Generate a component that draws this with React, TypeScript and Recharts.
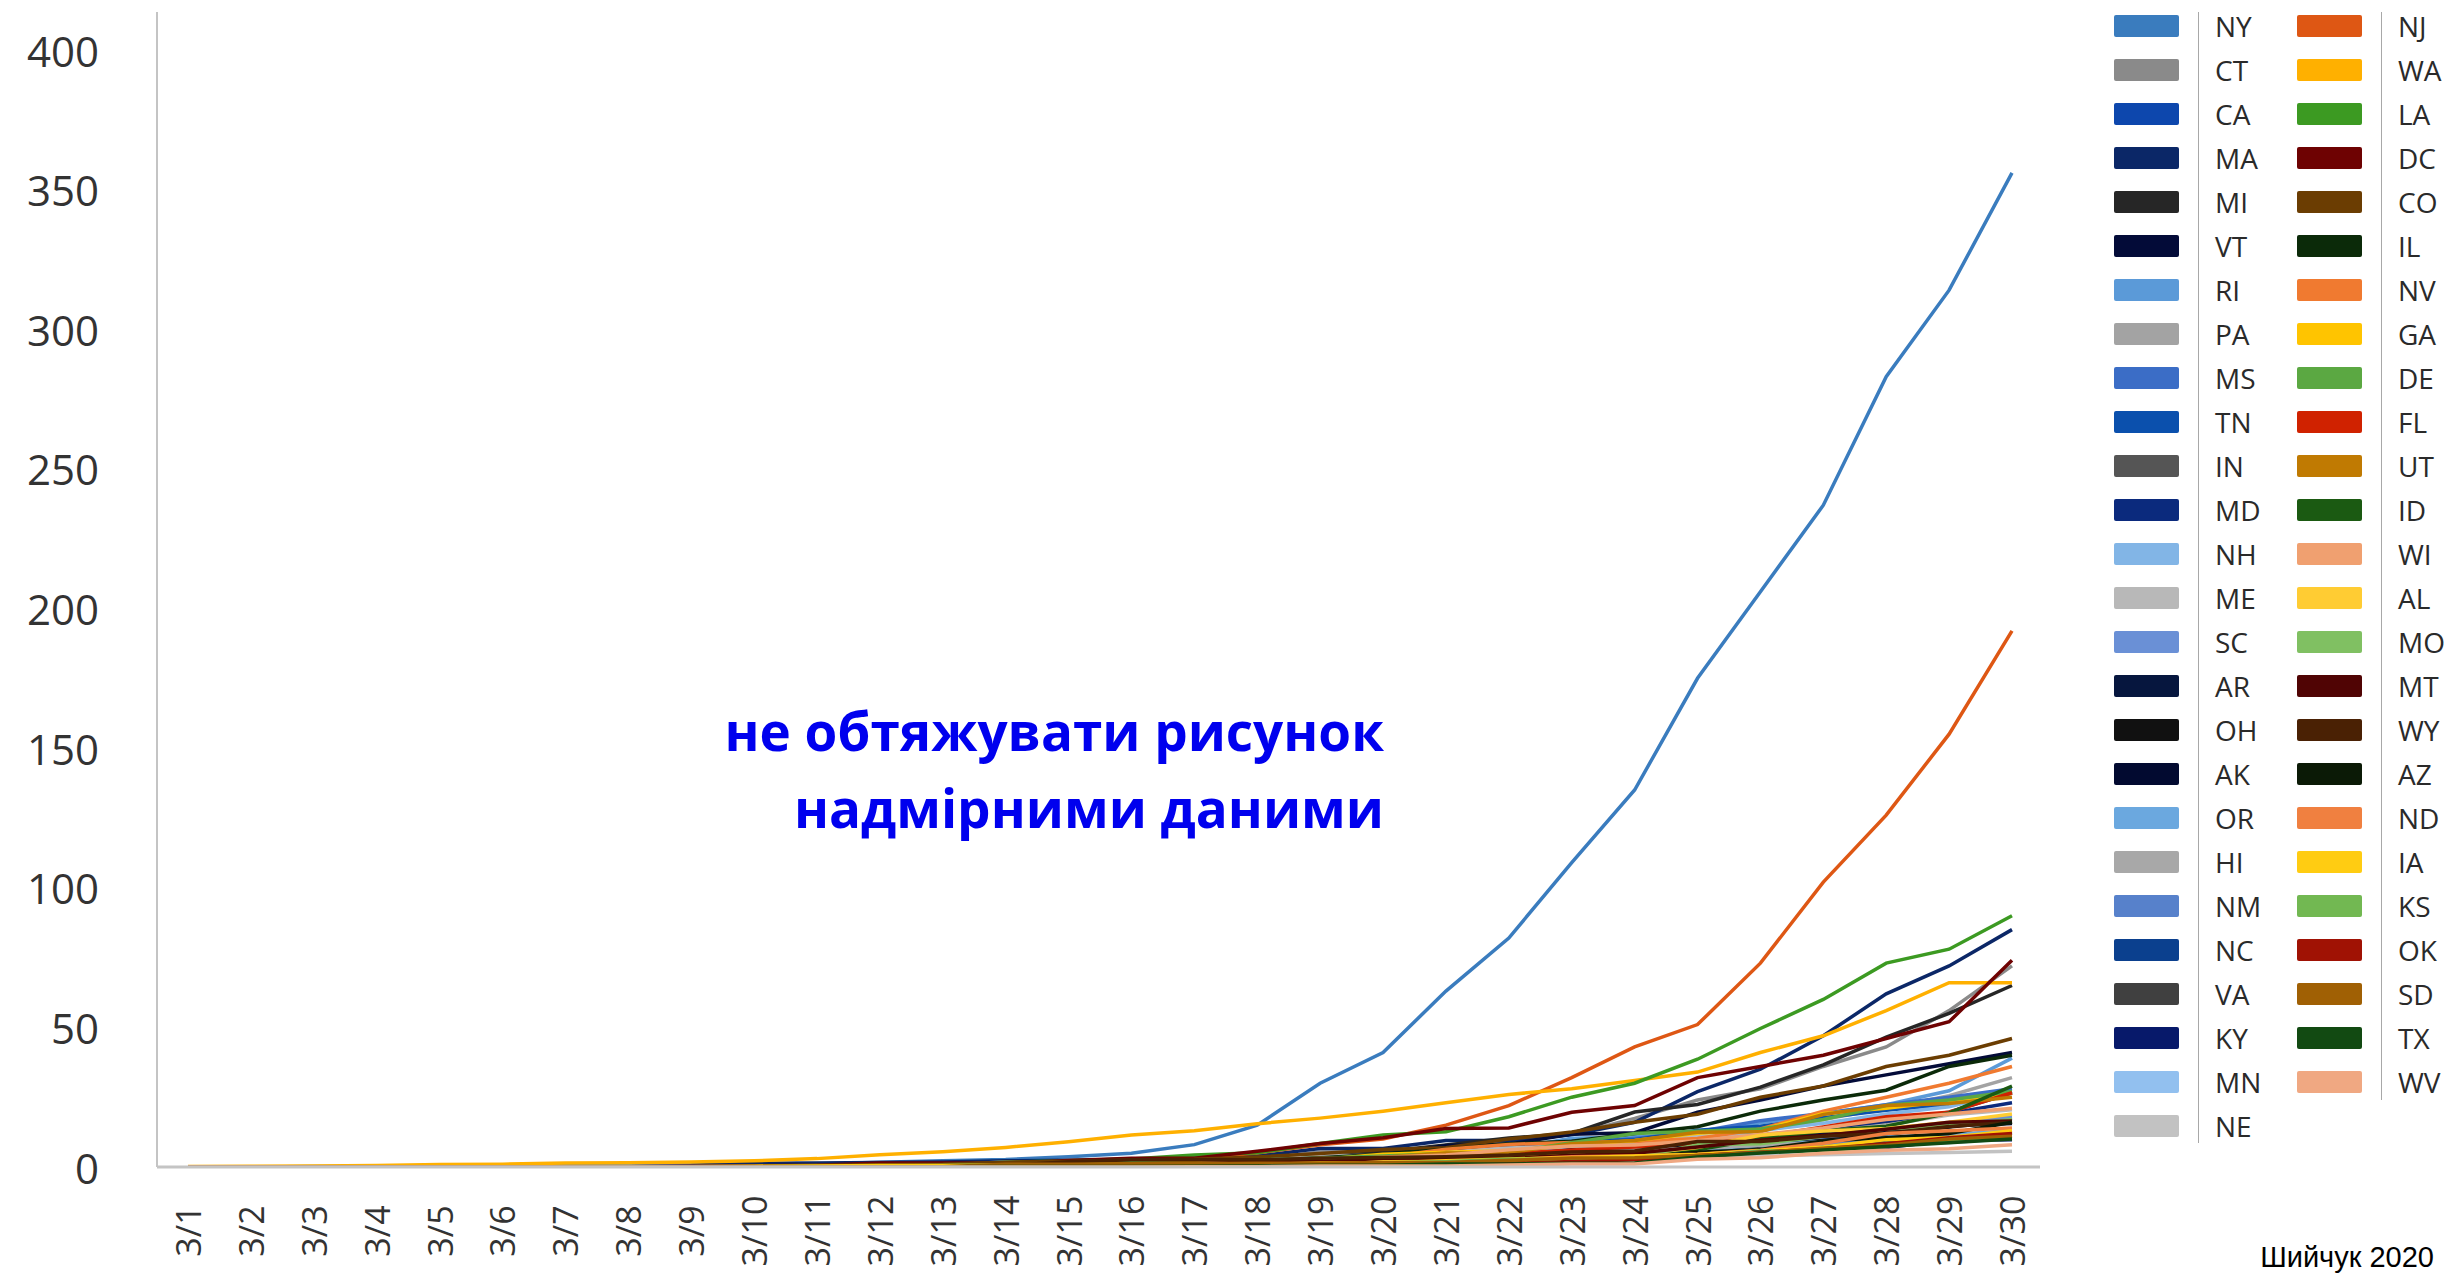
import { Line, LineChart, XAxis, YAxis } from "recharts"

const days = [
  "3/1", "3/2", "3/3", "3/4", "3/5", "3/6", "3/7", "3/8", "3/9", "3/10",
  "3/11", "3/12", "3/13", "3/14", "3/15", "3/16", "3/17", "3/18", "3/19", "3/20",
  "3/21", "3/22", "3/23", "3/24", "3/25", "3/26", "3/27", "3/28", "3/29", "3/30"
]

const yTicks = [0, 50, 100, 150, 200, 250, 300, 350, 400]

// cases per 100k
const NY = [0, 0, 0, 0, 0, 0.1, 0.4, 0.5, 0.7, 0.9, 1.1, 1.7, 2.2, 2.7, 3.7, 4.9, 8, 15, 30, 41, 63, 82, 109, 135, 175, 206, 237, 283, 314, 356]
const CT = [0, 0, 0, 0, 0, 0, 0, 0.1, 0.1, 0.1, 0.1, 0.2, 0.3, 0.7, 0.7, 1.4, 1.9, 2.7, 5.4, 5.4, 5.4, 9, 11.7, 17.4, 24, 28, 36, 43, 56, 72]
const CA = [0.1, 0.1, 0.1, 0.1, 0.1, 0.2, 0.2, 0.3, 0.3, 0.4, 0.5, 0.5, 0.7, 0.9, 1.1, 1.4, 1.7, 2.1, 2.6, 3.3, 3.4, 4, 5.3, 5.4, 6.3, 8.2, 10.4, 12.8, 14.4, 17.5]
const MA = [0, 0, 0, 0, 0, 0.1, 0.2, 0.4, 0.6, 1.3, 1.4, 1.6, 1.8, 2.2, 2.4, 2.8, 3.2, 3.9, 6.6, 6.6, 9.5, 9.5, 11.5, 16, 27, 35, 47, 62, 72, 85]
const MI = [0, 0, 0, 0, 0, 0, 0, 0, 0, 0, 0, 0.1, 0.1, 0.3, 0.5, 0.5, 0.6, 0.8, 3.3, 5.5, 7.9, 10.4, 12, 19.7, 22.4, 28.6, 36.6, 46.5, 55, 65]
const VT = [0, 0, 0, 0, 0, 0, 0, 0.2, 0.2, 0.3, 0.3, 0.5, 0.9, 0.8, 1.3, 1.9, 2.6, 2.9, 3.5, 4.2, 7.7, 8.2, 11.7, 12.3, 19.6, 24, 29, 33, 37, 41]
const RI = [0, 0, 0.2, 0.2, 0.2, 0.2, 0.3, 0.3, 0.3, 0.3, 0.5, 0.5, 0.5, 1.9, 1.9, 2.1, 2.2, 2.7, 3.1, 4, 6.5, 6.5, 10.3, 10.8, 11.7, 15.8, 19.2, 22.3, 27.3, 39]
const PA = [0, 0, 0, 0, 0, 0.1, 0.1, 0.1, 0.1, 0.1, 0.1, 0.2, 0.3, 0.4, 0.6, 0.6, 0.8, 1.1, 1.4, 2.1, 2.9, 3.8, 5, 6.9, 8.4, 13.3, 17, 21, 25.5, 32]
const MS = [0, 0, 0, 0, 0, 0, 0, 0, 0, 0, 0, 0, 0.1, 0.2, 0.5, 0.7, 0.7, 1.1, 1.7, 2.7, 3.9, 6.4, 8.3, 10.2, 12.6, 16.6, 19.2, 22.3, 25, 28]
const TN = [0, 0, 0, 0, 0, 0.1, 0.1, 0.1, 0.1, 0.1, 0.1, 0.3, 0.4, 0.4, 0.6, 0.8, 1.1, 1.4, 2, 3.3, 5.1, 7.5, 9.1, 9.8, 13.2, 14.6, 17.6, 20.3, 22.5, 27]
const IN = [0, 0, 0, 0, 0, 0, 0.1, 0.1, 0.1, 0.1, 0.1, 0.2, 0.2, 0.2, 0.3, 0.3, 0.5, 0.6, 0.8, 1.2, 1.9, 3.8, 3.9, 5.9, 7.2, 9.2, 12.4, 15.5, 19.7, 26.5]
const MD = [0, 0, 0, 0, 0, 0.1, 0.1, 0.1, 0.1, 0.1, 0.2, 0.2, 0.2, 0.4, 0.6, 0.6, 0.9, 1.4, 1.8, 2.5, 3.2, 4.4, 4.9, 6.1, 7.6, 9.9, 12.6, 16.4, 19.2, 23]
const NH = [0, 0, 0.1, 0.1, 0.1, 0.1, 0.1, 0.3, 0.3, 0.3, 0.4, 0.4, 0.4, 0.9, 1, 1.6, 1.9, 2.9, 3.3, 4, 4.8, 5.8, 7.1, 7.1, 10.2, 13, 15.7, 19, 21.6, 27]
const ME = [0, 0, 0, 0, 0, 0, 0, 0, 0, 0, 0, 0, 0.1, 0.2, 0.9, 1.2, 2, 3.2, 3.9, 4.2, 5.6, 6.8, 7.6, 8.2, 11.1, 11.1, 12.6, 15, 18.6, 20.5]
const SC = [0, 0, 0, 0, 0, 0, 0.1, 0.1, 0.1, 0.1, 0.2, 0.2, 0.2, 0.4, 0.6, 0.7, 0.9, 0.9, 1.6, 2.4, 3.8, 3.8, 5.9, 6.1, 8, 8.8, 10.7, 12.7, 15.7, 18]
const AR = [0, 0, 0, 0, 0, 0, 0, 0, 0, 0, 0.1, 0.2, 0.2, 0.6, 0.7, 0.8, 1.1, 1.5, 2.1, 2.6, 3.3, 3.9, 6.2, 6.8, 9.1, 11, 12.3, 13.5, 14.9, 15.7]
const OH = [0, 0, 0, 0, 0, 0, 0, 0, 0, 0, 0, 0, 0, 0.1, 0.3, 0.4, 0.6, 0.8, 1, 1.5, 2.1, 3, 3.8, 4.9, 5.8, 7.5, 9.5, 11.6, 14.3, 16.5]
const AK = [0, 0, 0, 0, 0, 0, 0, 0, 0, 0, 0, 0, 0.1, 0.1, 0.1, 0.4, 0.8, 0.8, 1.1, 1.6, 2.1, 3.7, 4.4, 5.3, 8, 9.4, 11.2, 13.1, 15, 15.6]
const OR = [0, 0, 0, 0, 0, 0, 0.2, 0.2, 0.3, 0.4, 0.4, 0.5, 0.7, 0.8, 0.9, 1.1, 1.6, 2, 2.1, 2.7, 3.1, 3.6, 4.6, 4.8, 6.2, 7.8, 9.1, 10.7, 11.6, 13]
const HI = [0, 0, 0, 0, 0, 0, 0.1, 0.1, 0.1, 0.1, 0.1, 0.1, 0.1, 0.1, 0.5, 0.7, 0.7, 1, 1.3, 2.6, 3.7, 3.9, 5.3, 6.3, 6.6, 7.8, 8.7, 9.1, 10.9, 12.3]
const NM = [0, 0, 0, 0, 0, 0, 0, 0, 0, 0, 0.3, 0.3, 0.4, 0.6, 0.8, 1.1, 1.1, 1.3, 1.7, 2.1, 2.7, 3.1, 3.9, 4.7, 5.3, 6.3, 8.6, 9.1, 9.5, 11.3]
const NC = [0, 0, 0, 0, 0, 0, 0, 0, 0, 0.1, 0.1, 0.1, 0.2, 0.3, 0.3, 0.3, 0.6, 0.7, 1, 1.4, 2.1, 2.4, 2.8, 4, 4.8, 6, 7.2, 9, 10.4, 12.5]
const VA = [0, 0, 0, 0, 0, 0, 0, 0, 0, 0, 0.1, 0.1, 0.2, 0.4, 0.5, 0.6, 0.8, 0.9, 1.1, 1.3, 1.8, 2.6, 3, 3.4, 4.3, 5.8, 7.2, 8.5, 10.1, 12]
const KY = [0, 0, 0, 0, 0, 0, 0, 0, 0, 0.1, 0.2, 0.2, 0.3, 0.5, 0.5, 0.5, 0.6, 0.6, 1, 1.2, 1.9, 2.3, 2.2, 3.7, 4.3, 5.4, 6.6, 7, 9.5, 9.8]
const MN = [0, 0, 0, 0, 0, 0, 0, 0, 0, 0, 0, 0, 0.3, 0.4, 0.6, 0.9, 1.1, 1.4, 1.6, 2.1, 2.4, 2.8, 4.2, 4.7, 5.2, 6.1, 7.1, 7.8, 8.8, 10.2]
const NE = [0, 0, 0, 0, 0, 0, 0.1, 0.1, 0.1, 0.2, 0.3, 0.5, 0.7, 0.8, 0.9, 0.9, 1, 1.1, 1.1, 1.7, 1.9, 2, 2.6, 3.1, 3.6, 4.1, 4.4, 4.8, 5.2, 5.6]

const NJ = [0, 0, 0, 0, 0, 0, 0, 0, 0, 0, 0.3, 0.3, 0.8, 0.8, 1, 2, 3, 5, 8, 10, 15, 22, 32, 43, 51, 73, 102, 126, 155, 192]
const WA = [0.2, 0.3, 0.4, 0.5, 0.9, 1, 1.4, 1.5, 1.8, 2.2, 3, 4.4, 5.5, 7, 9, 11.5, 13, 15.5, 17.5, 20, 23, 26, 28, 31, 34, 41, 47, 56, 66, 66]
const LA = [0, 0, 0, 0, 0, 0, 0, 0, 0, 0.1, 0.3, 0.8, 0.8, 1.7, 2.2, 2.9, 4.3, 5.1, 8.4, 11.5, 12.6, 18, 25, 30, 38.6, 49.6, 60, 73, 78, 90]
const DC = [0, 0, 0, 0, 0, 0, 0.1, 0.1, 0.3, 0.4, 0.6, 1.4, 1.4, 1.4, 2.3, 3.1, 3.1, 5.6, 8.4, 10.5, 13.8, 14, 19.6, 22, 32, 36, 40, 46, 52, 74]
const CO = [0, 0, 0, 0, 0.1, 0.1, 0.1, 0.1, 0.2, 0.3, 0.6, 0.8, 1, 1.7, 2, 2.5, 2.8, 3.6, 4.8, 6.3, 6.9, 10, 12.5, 16, 18.9, 25, 29, 36, 40, 46]
const IL = [0, 0, 0, 0, 0, 0, 0, 0, 0.1, 0.1, 0.2, 0.2, 0.4, 0.5, 0.7, 0.8, 1.2, 2.2, 3.3, 4.6, 6.4, 8.3, 9.2, 12, 14.4, 20, 24, 27.5, 36, 40]
const NV = [0, 0, 0, 0, 0, 0, 0, 0, 0, 0, 0.1, 0.2, 0.3, 0.6, 0.8, 1, 1.8, 1.8, 3.1, 3.5, 6.4, 8.1, 8.8, 9.1, 10.2, 13.6, 20, 25, 30, 36]
const GA = [0, 0, 0, 0, 0, 0, 0, 0, 0, 0.1, 0.2, 0.3, 0.4, 0.6, 0.9, 1.2, 1.4, 1.9, 2.7, 4.6, 5.3, 5.8, 7.7, 9.5, 12.1, 13.3, 19.2, 21, 23.6, 26.5]
const DE = [0, 0, 0, 0, 0, 0, 0, 0, 0, 0, 0.1, 0.4, 0.5, 0.7, 1, 1.5, 2.2, 2.6, 3.1, 3.9, 4.8, 5.3, 8.7, 12, 12.8, 13.6, 17, 22, 24, 27]
const FL = [0, 0, 0, 0, 0, 0, 0, 0, 0, 0.1, 0.1, 0.2, 0.3, 0.4, 0.5, 0.7, 1, 1.5, 2, 2.6, 3.5, 4.8, 6.1, 7.2, 8.6, 10.8, 14.3, 18, 19.6, 26.6]
const UT = [0, 0, 0, 0, 0, 0, 0, 0, 0, 0, 0.1, 0.2, 0.3, 0.3, 0.9, 1.2, 1.6, 1.6, 2.5, 3.5, 5, 5.1, 8.3, 9.5, 12.4, 12.6, 18.8, 22, 22.7, 25]
const ID = [0, 0, 0, 0, 0, 0, 0, 0, 0, 0, 0, 0, 0, 0.1, 0.3, 0.4, 0.5, 0.5, 0.7, 1.7, 1.7, 2.3, 2.8, 4.8, 6.2, 10, 13, 14.6, 19.3, 29]
const WI = [0, 0, 0, 0, 0, 0, 0, 0, 0, 0, 0.1, 0.1, 0.3, 0.5, 0.6, 0.8, 1.2, 1.8, 2.7, 3.5, 4.3, 6.2, 7.5, 7.9, 9.4, 11.6, 14, 17, 19, 21]
const AL = [0, 0, 0, 0, 0, 0, 0, 0, 0, 0, 0, 0, 0.1, 0.1, 0.2, 0.7, 0.8, 1, 1.6, 2.6, 2.6, 3.6, 4.3, 4.5, 7, 11.4, 12.9, 13.8, 16, 19]
const MO = [0, 0, 0, 0, 0, 0, 0, 0, 0, 0, 0.1, 0.1, 0.1, 0.1, 0.1, 0.2, 0.2, 0.5, 0.7, 1.2, 1.5, 1.5, 3.4, 3.4, 8, 8.3, 11, 13.6, 14.8, 17]
const MT = [0, 0, 0, 0, 0, 0, 0, 0, 0, 0, 0, 0, 0.1, 0.5, 0.7, 0.8, 1.1, 1.9, 1.9, 3.1, 3.2, 3.2, 4.2, 4.9, 7.2, 9.6, 11.3, 13.5, 16, 16.5]
const WY = [0, 0, 0, 0, 0, 0, 0, 0, 0, 0, 0, 0.2, 0.2, 0.5, 1.9, 2.6, 2.6, 2.6, 3.1, 3.4, 3.7, 4.3, 5.4, 5.7, 9.1, 9.1, 11, 12, 14.5, 16]
const AZ = [0, 0, 0, 0, 0, 0, 0, 0, 0, 0, 0.1, 0.1, 0.1, 0.1, 0.2, 0.2, 0.3, 0.4, 0.6, 0.9, 1.4, 2.9, 3.2, 3.2, 5.3, 6.3, 9.3, 10.5, 12, 16]
const ND = [0, 0, 0, 0, 0, 0, 0, 0, 0, 0, 0, 0, 0.1, 0.1, 0.1, 0.1, 0.3, 0.7, 1, 1.2, 1.8, 2.6, 3.7, 3.9, 4.6, 6, 8.5, 12, 13, 14]
const IA = [0, 0, 0, 0, 0, 0, 0, 0.1, 0.1, 0.3, 0.4, 0.5, 0.5, 0.6, 0.6, 0.7, 0.7, 0.9, 1.4, 1.4, 2.2, 2.9, 3.3, 3.9, 4.5, 5.8, 7.2, 9.8, 10.6, 13]
const KS = [0, 0, 0, 0, 0, 0, 0, 0, 0, 0, 0, 0.1, 0.1, 0.1, 0.1, 0.2, 0.3, 0.3, 0.6, 1.4, 1.9, 2.8, 2.8, 3.1, 3.8, 5.7, 5.9, 7.3, 9.5, 11]
const OK = [0, 0, 0, 0, 0, 0, 0, 0, 0, 0, 0, 0, 0, 0, 0.1, 0.2, 0.3, 0.3, 0.5, 1, 1.2, 1.3, 2, 2.6, 4.1, 5.3, 6.5, 8.3, 10.5, 12]
const SD = [0, 0, 0, 0, 0, 0, 0, 0, 0, 0, 0, 0.1, 0.1, 1, 1, 1.2, 1.2, 1.3, 1.3, 1.6, 1.6, 2.4, 3.2, 3.3, 4.1, 5.2, 6.7, 7.8, 10, 11]
const TX = [0, 0, 0, 0, 0, 0, 0, 0, 0, 0, 0, 0.1, 0.1, 0.2, 0.2, 0.2, 0.3, 0.4, 0.6, 0.6, 1.1, 1.1, 1.3, 1.4, 3.6, 5, 6.1, 7.3, 8.7, 10]
const WV = [0, 0, 0, 0, 0, 0, 0, 0, 0, 0, 0, 0, 0, 0, 0, 0, 0.1, 0.1, 0.4, 0.4, 0.4, 0.7, 1.1, 1.1, 2.8, 3.3, 4.9, 6, 6.5, 8]

const leftStates = ["NY", "CT", "CA", "MA", "MI", "VT", "RI", "PA", "MS", "TN", "IN", "MD", "NH", "ME", "SC", "AR", "OH", "AK", "OR", "HI", "NM", "NC", "VA", "KY", "MN", "NE"]
const rightStates = ["NJ", "WA", "LA", "DC", "CO", "IL", "NV", "GA", "DE", "FL", "UT", "ID", "WI", "AL", "MO", "MT", "WY", "AZ", "ND", "IA", "KS", "OK", "SD", "TX", "WV"]

const values: Record<string, number[]> = {
  NY, CT, CA, MA, MI, VT, RI, PA, MS, TN, IN, MD, NH, ME, SC, AR, OH, AK, OR, HI, NM, NC, VA, KY, MN, NE,
  NJ, WA, LA, DC, CO, IL, NV, GA, DE, FL, UT, ID, WI, AL, MO, MT, WY, AZ, ND, IA, KS, OK, SD, TX, WV
}

const colors: Record<string, string> = {
  NY: "#3a7cbe", CT: "#8a8a8a", CA: "#0d47ad", MA: "#0b2767", MI: "#262626", VT: "#030b38",
  RI: "#5b9ad8", PA: "#a3a3a3", MS: "#3b6dc6", TN: "#0b50ad", IN: "#555555", MD: "#0b2a7d",
  NH: "#82b5e6", ME: "#b8b8b8", SC: "#6a90d6", AR: "#06163e", OH: "#111111", AK: "#020a30",
  OR: "#6ba8df", HI: "#a8a8a8", NM: "#5781cb", NC: "#0b408e", VA: "#404040", KY: "#07196a",
  MN: "#92c0ef", NE: "#c2c2c2",
  NJ: "#de5714", WA: "#ffb000", LA: "#3c9a22", DC: "#6e0202", CO: "#6b3d02", IL: "#0b2a09",
  NV: "#f07a30", GA: "#ffc400", DE: "#5ba842", FL: "#d02200", UT: "#c07a02", ID: "#1b5a12",
  WI: "#f0a070", AL: "#ffcc33", MO: "#80c062", MT: "#500404", WY: "#4a2104", AZ: "#0b1a06",
  ND: "#f08040", IA: "#ffcc12", KS: "#72b852", OK: "#a01204", SD: "#a06004", TX: "#124a12",
  WV: "#f0a882"
}

const states = [...leftStates, ...rightStates]

const data = days.map((day, i) => {
  const row: Record<string, string | number> = { day }
  states.forEach((s) => {
    row[s] = values[s][i]
  })
  return row
})

const XTick = ({ x, y, payload }: any) => (
  <text
    x={x}
    y={y}
    transform={`rotate(-90 ${x} ${y})`}
    textAnchor="middle"
    dominantBaseline="central"
    fontFamily="'Open Sans', sans-serif"
    fontSize={34}
    fill="#333"
  >
    {payload.value}
  </text>
)

const YTick = ({ x, y, payload }: any) => (
  <text
    x={x}
    y={y}
    textAnchor="end"
    dominantBaseline="central"
    fontFamily="'Open Sans', sans-serif"
    fontSize={42}
    fill="#333"
  >
    {payload.value}
  </text>
)

const LegendColumn = ({ names, left, sepHeight }: { names: string[]; left: number; sepHeight: number }) => (
  <>
    <div
      style={{
        position: "absolute",
        left: left + 84,
        top: 12,
        width: 1,
        height: sepHeight,
        background: "#a8a8a8"
      }}
    />
    {names.map((name, i) => (
      <div key={name}>
        <div
          style={{
            position: "absolute",
            left,
            top: 26 + i * 44 - 11,
            width: 65,
            height: 22,
            background: colors[name],
            borderRadius: 2
          }}
        />
        <div
          style={{
            position: "absolute",
            left: left + 101,
            top: 26 + i * 44 - 20,
            height: 40,
            lineHeight: "40px",
            fontFamily: "'Open Sans', sans-serif",
            fontSize: 28,
            color: "#2a2a2a"
          }}
        >
          {name}
        </div>
      </div>
    ))}
  </>
)

const App = () => {
  return (
    <div
      style={{
        position: "absolute",
        left: 0,
        top: 0,
        width: 2446,
        height: 1283,
        background: "#fff",
        overflow: "hidden"
      }}
    >
      <LineChart
        width={2446}
        height={1283}
        data={data}
        margin={{ top: 12, right: 406, bottom: 0, left: 0 }}
      >
        <XAxis
          dataKey="day"
          interval={0}
          padding={{ left: 31, right: 28 }}
          height={116}
          tickSize={0}
          tickMargin={64}
          tickLine={false}
          axisLine={{ stroke: "#c4c4c4", strokeWidth: 3 }}
          tick={<XTick />}
        />
        <YAxis
          domain={[0, 400]}
          ticks={yTicks}
          width={157}
          padding={{ top: 38 }}
          tickSize={0}
          tickMargin={58}
          tickLine={false}
          axisLine={{ stroke: "#c4c4c4", strokeWidth: 2 }}
          tick={<YTick />}
          allowDataOverflow
        />
        {states.map((s) => (
          <Line
            key={s}
            type="linear"
            dataKey={s}
            stroke={colors[s]}
            strokeWidth={3.5}
            dot={false}
            activeDot={false}
            isAnimationActive={false}
          />
        ))}
      </LineChart>

      <LegendColumn names={leftStates} left={2114} sepHeight={1131} />
      <LegendColumn names={rightStates} left={2297} sepHeight={1088} />

      <div
        style={{
          position: "absolute",
          left: 0,
          top: 692,
          width: 1384,
          textAlign: "right",
          fontFamily: "'Open Sans', sans-serif",
          fontWeight: 700,
          fontSize: 53,
          lineHeight: "77px",
          color: "#0000ee"
        }}
      >
        не обтяжувати рисунок
        <br />
        надмірними даними
      </div>

      <div
        style={{
          position: "absolute",
          right: 12,
          top: 1240,
          fontFamily: "'Liberation Sans', Arial, sans-serif",
          fontSize: 29,
          lineHeight: "34px",
          color: "#000"
        }}
      >
        Шийчук 2020
      </div>
    </div>
  )
}

export default App
